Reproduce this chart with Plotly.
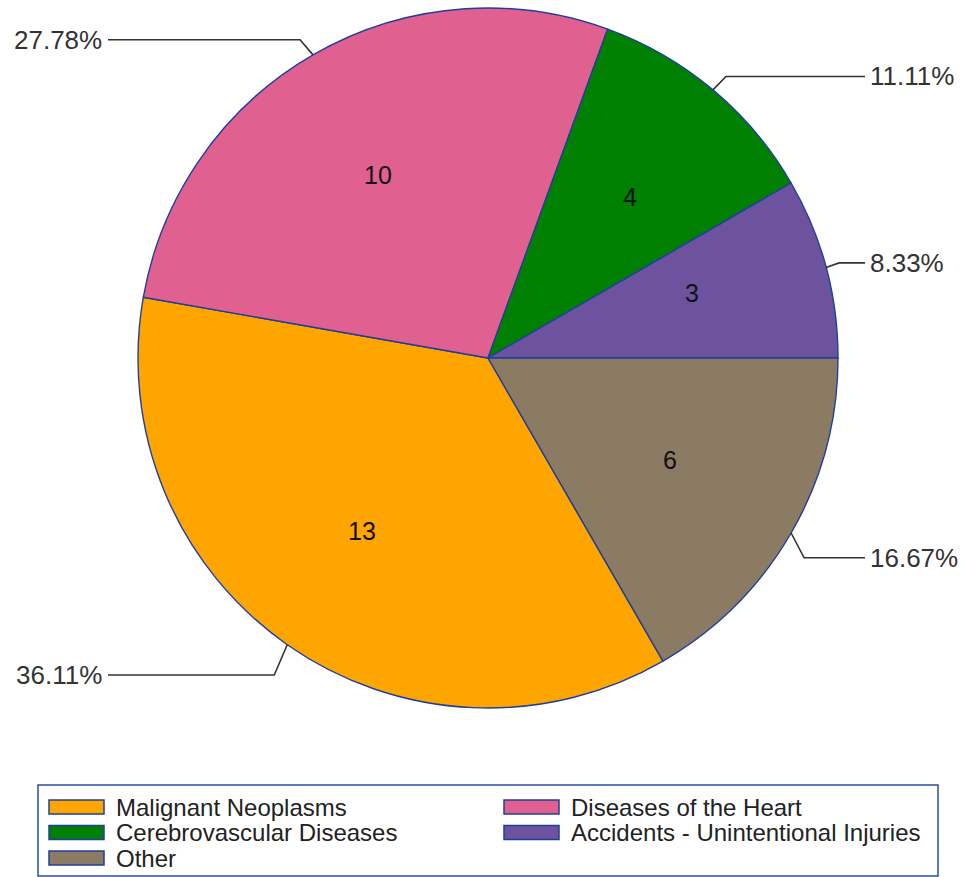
import math
import plotly.graph_objects as go

# ---- data ----
labels = ["Malignant Neoplasms", "Diseases of the Heart", "Cerebrovascular Diseases",
          "Accidents - Unintentional Injuries", "Other"]
values = [13, 10, 4, 3, 6]
colors = ["#FFA500", "#E0608F", "#008000", "#6D539E", "#8B7B62"]

# ---- layout constants ----
W, H = 967, 877
PIE_L, PIE_R, PIE_T, PIE_B = 138, 838, 8, 708
cx = (PIE_L + PIE_R) / 2
cy = (PIE_T + PIE_B) / 2
R = (PIE_R - PIE_L) / 2
ROTATION = 150
BORDER = "#1F3F9F"
FONT = "Liberation Sans, Arial, sans-serif"
LEFT_END, RIGHT_END = 108, 865


def px(x):
    return x / W


def py(y):
    return 1 - y / H


fig = go.Figure(go.Pie(
    labels=labels, values=values, sort=False, direction="clockwise",
    rotation=ROTATION,
    marker=dict(colors=colors, line=dict(color=BORDER, width=1.4)),
    textinfo="none", hoverinfo="label+value+percent", showlegend=False,
    domain=dict(x=[px(PIE_L), px(PIE_R)], y=[py(PIE_B), py(PIE_T)]),
))

shapes = []
annotations = []
total = sum(values)
start = 90 - ROTATION  # math angle (deg, ccw from +x)
for lab, v in zip(labels, values):
    span = v / total * 360
    mid = math.radians(start - span / 2)
    start -= span
    c, s = math.cos(mid), math.sin(mid)
    # inside value label
    ix, iy = cx + 0.63 * R * c, cy - 0.63 * R * s - 8
    annotations.append(dict(x=px(ix), y=py(iy), xref="paper", yref="paper",
                            text=str(v), showarrow=False,
                            font=dict(family=FONT, size=25, color="#111111")))
    # leader line: short segment out from the slice edge, then horizontal
    ex, ey = cx + R * c, cy - R * s
    bx = ex + (13 if c > 0 else -13)
    by = ey - 0.05 * R * s + (16 if s < 0 else 0)
    endx = LEFT_END if c < 0 else RIGHT_END
    path = f"M {px(ex)},{py(ey)} L {px(bx)},{py(by)} L {px(endx)},{py(by)}"
    shapes.append(dict(type="path", xref="paper", yref="paper", path=path,
                       line=dict(color="#333333", width=1.6)))
    pct = f"{v / total * 100:.2f}%"
    annotations.append(dict(x=px(endx - 4 if c < 0 else endx + 3), y=py(by),
                            xref="paper", yref="paper", text=pct, showarrow=False,
                            xanchor="right" if c < 0 else "left", yanchor="middle",
                            font=dict(family=FONT, size=26, color="#333333")))

# ---- manual legend ----
shapes.append(dict(type="rect", xref="paper", yref="paper",
                   x0=px(38), x1=px(938), y0=py(876), y1=py(785),
                   line=dict(color="#2A4FA8", width=1.5), fillcolor="rgba(0,0,0,0)"))
for i, (lab, col) in enumerate(zip(labels, colors)):
    cidx, ridx = i % 2, i // 2
    sx0 = 49 + cidx * 455
    sy0 = 800 + ridx * 25.5
    shapes.append(dict(type="rect", xref="paper", yref="paper",
                       x0=px(sx0), x1=px(sx0 + 55), y0=py(sy0 + 14), y1=py(sy0),
                       line=dict(color=BORDER, width=1.5), fillcolor=col))
    annotations.append(dict(x=px(sx0 + 65), y=py(sy0 + 7), xref="paper", yref="paper",
                            text=lab, showarrow=False, xanchor="left", yanchor="middle",
                            font=dict(family=FONT, size=24, color="#222222")))

fig.update_layout(
    width=W, height=H, margin=dict(l=0, r=0, t=0, b=0), autosize=False,
    paper_bgcolor="white", plot_bgcolor="white",
    shapes=shapes, annotations=annotations, showlegend=False,
)

fig.write_html(
    "out.html",
    config={"displayModeBar": False},
    post_script="document.body.style.margin='0';document.body.style.overflow='hidden';",
)
